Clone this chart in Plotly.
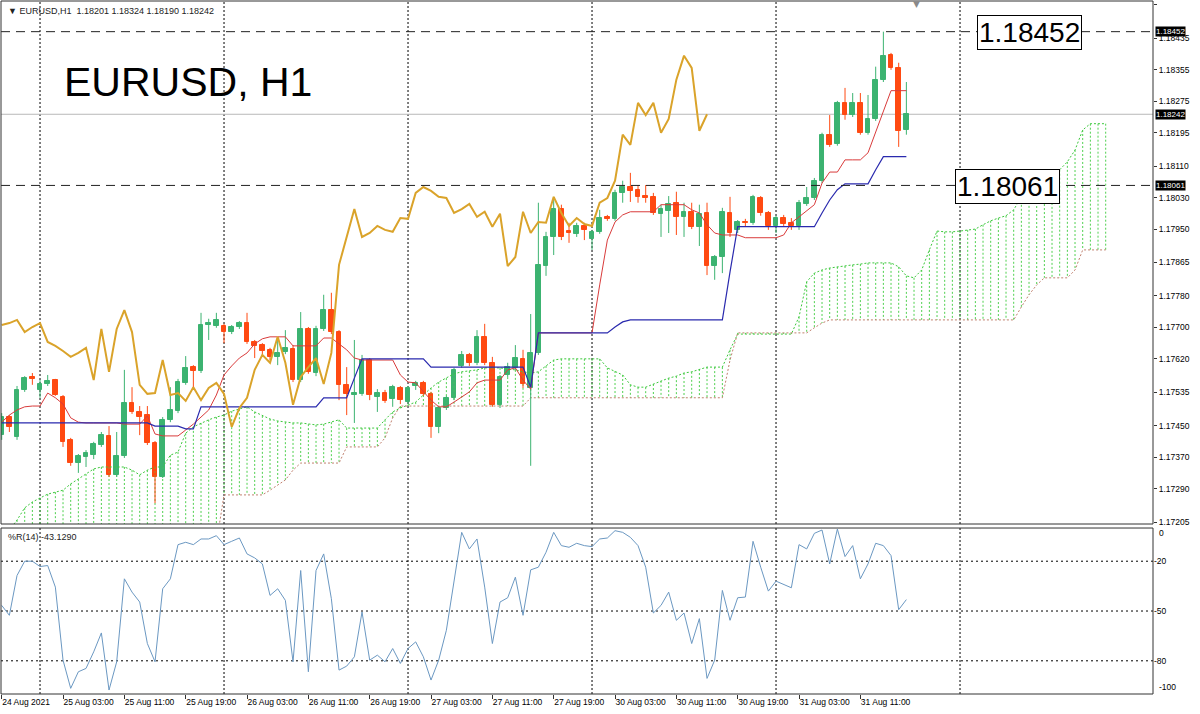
import plotly.graph_objects as go

FONT = "Liberation Sans, Arial, sans-serif"

header_text = "▼ EURUSD,H1  1.18201 1.18324 1.18190 1.18242"
chart_title = "EURUSD, H1"
wpr_label = "%R(14) -43.1290"

# ---------------- candles (bar index 0 = 24 Aug 19:00, H1) ----------------
opens = [1.17426, 1.17472, 1.17421, 1.17541, 1.17574, 1.17541, 1.17556, 1.17566, 1.17523, 1.17414,
         1.17355, 1.17370, 1.17375, 1.17401, 1.17424, 1.17325, 1.17373, 1.17508, 1.17485, 1.17477,
         1.17406, 1.17320, 1.17465, 1.17487, 1.17559, 1.17599, 1.17589, 1.17706, 1.17704, 1.17704,
         1.17688, 1.17701, 1.17711, 1.17663, 1.17655, 1.17643, 1.17625, 1.17637, 1.17645, 1.17566,
         1.17696, 1.17584, 1.17696, 1.17744, 1.17688, 1.17554, 1.17528, 1.17531, 1.17617, 1.17523,
         1.17533, 1.17518, 1.17546, 1.17510, 1.17551, 1.17559, 1.17531, 1.17447, 1.17495, 1.17521,
         1.17602, 1.17630, 1.17610, 1.17676, 1.17610, 1.17503, 1.17579, 1.17597, 1.17620, 1.17546,
         1.17635, 1.17856, 1.17930, 1.18001, 1.17945, 1.17938, 1.17958, 1.17925, 1.17943, 1.17981,
         1.17976, 1.18042, 1.18057, 1.18050, 1.18034, 1.18032, 1.17989, 1.17996, 1.18017, 1.17981,
         1.17994, 1.17956, 1.17991, 1.17856, 1.17879, 1.17991, 1.17948, 1.17968, 1.17966, 1.18029,
         1.17991, 1.17958, 1.17978, 1.17966, 1.17958, 1.18014, 1.18029, 1.18073, 1.18190, 1.18167,
         1.18271, 1.18240, 1.18271, 1.18195, 1.18230, 1.18330, 1.18393, 1.18360, 1.18201]
highs = [1.17482, 1.17477, 1.17551, 1.17576, 1.17584, 1.17566, 1.17579, 1.17569, 1.17528, 1.17419,
         1.17378, 1.17388, 1.17409, 1.17434, 1.17449, 1.17434, 1.17592, 1.17548, 1.17500, 1.17500,
         1.17411, 1.17472, 1.17548, 1.17569, 1.17627, 1.17604, 1.17737, 1.17722, 1.17737, 1.17709,
         1.17706, 1.17716, 1.17737, 1.17668, 1.17660, 1.17648, 1.17671, 1.17693, 1.17655, 1.17739,
         1.17701, 1.17704, 1.17783, 1.17788, 1.17693, 1.17599, 1.17668, 1.17630, 1.17622, 1.17543,
         1.17541, 1.17554, 1.17551, 1.17551, 1.17564, 1.17564, 1.17536, 1.17500, 1.17526, 1.17597,
         1.17640, 1.17635, 1.17693, 1.17709, 1.17625, 1.17579, 1.17610, 1.17655, 1.17643, 1.17734,
         1.18017, 1.17943, 1.18032, 1.18012, 1.17966, 1.17966, 1.17966, 1.17948, 1.17999, 1.17986,
         1.18050, 1.18073, 1.18093, 1.18061, 1.18062, 1.18042, 1.18012, 1.18034, 1.18045, 1.18017,
         1.18017, 1.18012, 1.18017, 1.17884, 1.18004, 1.18032, 1.17973, 1.17976, 1.18037, 1.18034,
         1.17996, 1.17984, 1.17986, 1.17978, 1.18024, 1.18057, 1.18080, 1.18195, 1.18240, 1.18276,
         1.18309, 1.18296, 1.18296, 1.18291, 1.18363, 1.18452, 1.18398, 1.18373, 1.18324]
lows = [1.17414, 1.17434, 1.17414, 1.17536, 1.17554, 1.17521, 1.17551, 1.17526, 1.17396, 1.17348,
        1.17330, 1.17345, 1.17365, 1.17396, 1.17320, 1.17320, 1.17368, 1.17480, 1.17426, 1.17401,
        1.17253, 1.17317, 1.17459, 1.17482, 1.17554, 1.17546, 1.17584, 1.17668, 1.17699, 1.17660,
        1.17683, 1.17696, 1.17658, 1.17622, 1.17630, 1.17617, 1.17604, 1.17632, 1.17561, 1.17561,
        1.17582, 1.17576, 1.17691, 1.17683, 1.17515, 1.17477, 1.17457, 1.17526, 1.17515, 1.17485,
        1.17508, 1.17498, 1.17505, 1.17505, 1.17541, 1.17526, 1.17419, 1.17431, 1.17490, 1.17515,
        1.17597, 1.17602, 1.17604, 1.17604, 1.17498, 1.17495, 1.17574, 1.17592, 1.17546, 1.17348,
        1.17630, 1.17831, 1.17884, 1.17922, 1.17915, 1.17930, 1.17922, 1.17897, 1.17938, 1.17971,
        1.17971, 1.18017, 1.18019, 1.18017, 1.18017, 1.17986, 1.17930, 1.17940, 1.17935, 1.17930,
        1.17950, 1.17907, 1.17833, 1.17821, 1.17838, 1.17930, 1.17940, 1.17956, 1.17961, 1.17984,
        1.17948, 1.17940, 1.17958, 1.17948, 1.17948, 1.18009, 1.18024, 1.18067, 1.18159, 1.18162,
        1.18228, 1.18235, 1.18190, 1.18190, 1.18225, 1.18324, 1.18355, 1.18159, 1.18190]
closes = [1.17472, 1.17447, 1.17541, 1.17571, 1.17569, 1.17556, 1.17564, 1.17528, 1.17409, 1.17355,
          1.17373, 1.17381, 1.17404, 1.17426, 1.17325, 1.17373, 1.17508, 1.17485, 1.17472, 1.17406,
          1.17320, 1.17465, 1.17490, 1.17561, 1.17597, 1.17589, 1.17706, 1.17711, 1.17719, 1.17688,
          1.17701, 1.17711, 1.17663, 1.17653, 1.17640, 1.17625, 1.17635, 1.17648, 1.17566, 1.17696,
          1.17587, 1.17696, 1.17744, 1.17688, 1.17554, 1.17531, 1.17533, 1.17617, 1.17528, 1.17533,
          1.17513, 1.17548, 1.17515, 1.17546, 1.17559, 1.17531, 1.17447, 1.17495, 1.17521, 1.17592,
          1.17630, 1.17610, 1.17676, 1.17610, 1.17503, 1.17574, 1.17599, 1.17622, 1.17556, 1.17635,
          1.17859, 1.17930, 1.18001, 1.17930, 1.17940, 1.17958, 1.17948, 1.17943, 1.17978, 1.17976,
          1.18042, 1.18057, 1.18047, 1.18032, 1.18029, 1.17991, 1.18001, 1.18014, 1.17981, 1.17994,
          1.17956, 1.17989, 1.17856, 1.17879, 1.17994, 1.17940, 1.17968, 1.17966, 1.18032, 1.17991,
          1.17958, 1.17978, 1.17963, 1.17958, 1.18017, 1.18029, 1.18073, 1.18190, 1.18164, 1.18271,
          1.18240, 1.18271, 1.18195, 1.18230, 1.18330, 1.18391, 1.18360, 1.18200, 1.18242]

# ---------------- Ichimoku lines ----------------
tenkan = [1.17459, 1.17477, 1.17490, 1.17498, 1.17500, 1.17500, 1.17533, 1.17521, 1.17505, 1.17470,
          1.17459, 1.17457, 1.17457, 1.17457, 1.17457, 1.17457, 1.17454, 1.17454, 1.17454, 1.17475,
          1.17429, 1.17424, 1.17424, 1.17424, 1.17439, 1.17454, 1.17472, 1.17490, 1.17528, 1.17579,
          1.17602, 1.17622, 1.17635, 1.17658, 1.17671, 1.17676, 1.17676, 1.17676, 1.17653, 1.17653,
          1.17653, 1.17653, 1.17673, 1.17673, 1.17658, 1.17643, 1.17622, 1.17617, 1.17617, 1.17617,
          1.17617, 1.17617, 1.17579, 1.17561, 1.17559, 1.17536, 1.17515, 1.17498, 1.17498, 1.17510,
          1.17523, 1.17536, 1.17559, 1.17566, 1.17566, 1.17566, 1.17592, 1.17597, 1.17566, 1.17543,
          1.17686, 1.17686, 1.17686, 1.17686, 1.17686, 1.17686, 1.17686, 1.17686, 1.17808, 1.17922,
          1.17968, 1.17986, 1.17994, 1.17994, 1.17994, 1.17994, 1.18012, 1.18012, 1.18012, 1.18012,
          1.17999, 1.17991, 1.17961, 1.17940, 1.17935, 1.17935, 1.17935, 1.17928, 1.17928, 1.17928,
          1.17928, 1.17928, 1.17935, 1.17966, 1.17981, 1.17996, 1.18012, 1.18067, 1.18095, 1.18095,
          1.18126, 1.18126, 1.18126, 1.18144, 1.18197, 1.18248, 1.18302, 1.18302, 1.18302]
kijun = [1.17457, 1.17457, 1.17457, 1.17457, 1.17457, 1.17457, 1.17457, 1.17457, 1.17457, 1.17457,
         1.17457, 1.17457, 1.17457, 1.17457, 1.17457, 1.17457, 1.17457, 1.17457, 1.17457, 1.17457,
         1.17449, 1.17449, 1.17449, 1.17449, 1.17442, 1.17442, 1.17498, 1.17498, 1.17498, 1.17498,
         1.17498, 1.17498, 1.17498, 1.17498, 1.17498, 1.17498, 1.17498, 1.17498, 1.17498, 1.17498,
         1.17498, 1.17498, 1.17521, 1.17521, 1.17521, 1.17521, 1.17571, 1.17620, 1.17620, 1.17620,
         1.17620, 1.17620, 1.17620, 1.17620, 1.17620, 1.17620, 1.17599, 1.17599, 1.17599, 1.17599,
         1.17599, 1.17599, 1.17599, 1.17599, 1.17599, 1.17599, 1.17599, 1.17599, 1.17599, 1.17548,
         1.17686, 1.17686, 1.17686, 1.17686, 1.17686, 1.17686, 1.17686, 1.17686, 1.17686, 1.17686,
         1.17701, 1.17714, 1.17719, 1.17719, 1.17719, 1.17719, 1.17719, 1.17719, 1.17719, 1.17719,
         1.17719, 1.17719, 1.17719, 1.17719, 1.17719, 1.17841, 1.17956, 1.17956, 1.17956, 1.17956,
         1.17956, 1.17956, 1.17956, 1.17956, 1.17956, 1.17956, 1.17956, 1.17991, 1.18024, 1.18050,
         1.18065, 1.18065, 1.18065, 1.18065, 1.18101, 1.18134, 1.18134, 1.18134, 1.18134]
# Senkou spans (already shifted 26 bars ahead: 145 points)
span_a = [1.17159, 1.17185, 1.17210, 1.17241, 1.17256, 1.17266, 1.17276, 1.17281, 1.17286, 1.17302,
          1.17314, 1.17327, 1.17340, 1.17345, 1.17345, 1.17345, 1.17345, 1.17337, 1.17325, 1.17337,
          1.17345, 1.17345, 1.17375, 1.17383, 1.17431, 1.17447, 1.17457, 1.17465, 1.17472, 1.17477,
          1.17487, 1.17492, 1.17498, 1.17485, 1.17475, 1.17467, 1.17462, 1.17459, 1.17457, 1.17457,
          1.17454, 1.17452, 1.17454, 1.17459, 1.17465, 1.17444, 1.17444, 1.17444, 1.17444, 1.17444,
          1.17465, 1.17485, 1.17495, 1.17503, 1.17510, 1.17528, 1.17546, 1.17561, 1.17571, 1.17582,
          1.17587, 1.17589, 1.17592, 1.17597, 1.17597, 1.17597, 1.17594, 1.17592, 1.17587, 1.17584,
          1.17587, 1.17602, 1.17617, 1.17620, 1.17620, 1.17620, 1.17620, 1.17620, 1.17620, 1.17597,
          1.17589, 1.17579, 1.17554, 1.17548, 1.17548, 1.17556, 1.17564, 1.17571, 1.17576, 1.17584,
          1.17587, 1.17594, 1.17599, 1.17599, 1.17599, 1.17643, 1.17683, 1.17683, 1.17683, 1.17683,
          1.17683, 1.17683, 1.17683, 1.17683, 1.17727, 1.17816, 1.17838, 1.17846, 1.17851, 1.17854,
          1.17856, 1.17859, 1.17861, 1.17864, 1.17864, 1.17864, 1.17864, 1.17854, 1.17831, 1.17826,
          1.17846, 1.17897, 1.17945, 1.17943, 1.17943, 1.17945, 1.17948, 1.17950, 1.17961, 1.17971,
          1.17978, 1.17984, 1.17999, 1.18032, 1.18070, 1.18090, 1.18095, 1.18098, 1.18101, 1.18121,
          1.18151, 1.18202, 1.18218, 1.18218, 1.18218]
span_b = [1.17150, 1.17150, 1.17150, 1.17150, 1.17150, 1.17150, 1.17150, 1.17150, 1.17150, 1.17150,
          1.17150, 1.17150, 1.17150, 1.17150, 1.17150, 1.17150, 1.17150, 1.17150, 1.17150, 1.17150,
          1.17150, 1.17150, 1.17150, 1.17150, 1.17150, 1.17150, 1.17150, 1.17150, 1.17150, 1.17274,
          1.17274, 1.17274, 1.17274, 1.17274, 1.17274, 1.17286, 1.17299, 1.17312, 1.17337, 1.17355,
          1.17355, 1.17355, 1.17355, 1.17355, 1.17355, 1.17396, 1.17396, 1.17396, 1.17396, 1.17396,
          1.17419, 1.17470, 1.17500, 1.17500, 1.17500, 1.17500, 1.17500, 1.17500, 1.17500, 1.17500,
          1.17500, 1.17500, 1.17500, 1.17500, 1.17500, 1.17500, 1.17500, 1.17500, 1.17500, 1.17521,
          1.17521, 1.17521, 1.17521, 1.17521, 1.17521, 1.17521, 1.17521, 1.17521, 1.17521, 1.17521,
          1.17521, 1.17521, 1.17521, 1.17521, 1.17521, 1.17521, 1.17521, 1.17521, 1.17521, 1.17521,
          1.17521, 1.17521, 1.17521, 1.17521, 1.17521, 1.17617, 1.17686, 1.17686, 1.17686, 1.17686,
          1.17686, 1.17686, 1.17686, 1.17686, 1.17686, 1.17686, 1.17699, 1.17711, 1.17719, 1.17719,
          1.17719, 1.17719, 1.17719, 1.17719, 1.17719, 1.17719, 1.17719, 1.17719, 1.17719, 1.17719,
          1.17719, 1.17719, 1.17719, 1.17719, 1.17719, 1.17719, 1.17719, 1.17719, 1.17719, 1.17719,
          1.17719, 1.17719, 1.17719, 1.17752, 1.17783, 1.17808, 1.17826, 1.17826, 1.17826, 1.17826,
          1.17846, 1.17897, 1.17897, 1.17897, 1.17897]
chikou_shift = 26

# ---------------- Williams %R(14) ----------------
wpr = [-46.6, -52.6, -28.6, -20.0, -20.0, -23.2, -22.6, -35.6, -79.6, -96.6,
       -86.6, -84.6, -74.6, -63.2, -97.6, -80.6, -30.6, -38.6, -44.6, -69.6,
       -80.6, -36.6, -30.6, -10.0, -8.6, -10.0, -6.6, -6.6, -4.6, -10.0,
       -8.0, -6.0, -15.6, -18.0, -21.6, -40.6, -36.6, -43.6, -80.6, -25.6,
       -86.6, -25.6, -15.6, -42.6, -85.6, -83.2, -77.6, -50.6, -79.6, -76.6,
       -80.6, -72.6, -81.6, -72.6, -68.6, -77.6, -91.6, -79.6, -61.6, -32.6,
       -2.6, -12.6, -6.6, -35.6, -69.6, -44.6, -42.0, -29.6, -52.6, -25.2,
       -23.6, -14.6, -2.6, -10.6, -11.6, -9.2, -10.6, -11.2, -6.6, -6.0,
       -1.6, -2.6, -5.6, -10.6, -23.6, -51.2, -46.6, -38.6, -55.6, -51.2,
       -69.6, -54.6, -90.6, -79.6, -37.6, -55.6, -42.0, -41.6, -8.0, -23.6,
       -38.0, -32.0, -34.0, -36.0, -10.0, -12.6, -3.2, -1.2, -21.6, -0.6,
       -17.2, -10.6, -30.6, -21.6, -9.2, -10.6, -16.6, -49.2, -43.129]
wpr_levels = [-20, -50, -80]

# ---------------- axes / labels ----------------
xlabel_idx = [0, 8, 16, 24, 32, 40, 48, 56, 64, 72, 80, 88, 96, 104, 112]
xlabel_text = ["24 Aug 2021", "25 Aug 03:00", "25 Aug 11:00", "25 Aug 19:00", "26 Aug 03:00",
               "26 Aug 11:00", "26 Aug 19:00", "27 Aug 03:00", "27 Aug 11:00", "27 Aug 19:00",
               "30 Aug 03:00", "30 Aug 11:00", "30 Aug 19:00", "31 Aug 03:00", "31 Aug 11:00"]
day_starts = [5, 29, 53, 77, 101, 125]
price_ticks = [1.18520, 1.18435, 1.18355, 1.18275, 1.18195, 1.18110, 1.18030, 1.17950, 1.17865,
               1.17780, 1.17700, 1.17620, 1.17535, 1.17450, 1.17370, 1.17290, 1.17205]
level_lines = [1.18452, 1.18061]
bid_price = 1.18242

BULL = "#3cb371"
BEAR = "#ff4a12"

n = len(closes)
bars = list(range(n))

fig = go.Figure()

# cloud hatch (vertical dotted strokes between the spans)
hx, hy = [], []
for i, (a, b) in enumerate(zip(span_a, span_b)):
    hx += [i, i, None]
    hy += [a, b, None]
fig.add_trace(go.Scatter(x=hx, y=hy, mode="lines", yaxis="y",
                         line=dict(color="#4fd04f", width=1, dash="2px,2px"), hoverinfo="skip"))
cloud_x = list(range(len(span_a)))
fig.add_trace(go.Scatter(x=cloud_x, y=span_a, mode="lines", yaxis="y",
                         line=dict(color="#3cc83c", width=1, dash="2px,2px"), hoverinfo="skip"))
fig.add_trace(go.Scatter(x=cloud_x, y=span_b, mode="lines", yaxis="y",
                         line=dict(color="#c0806e", width=1, dash="2px,2px"), hoverinfo="skip"))

# candles: wicks + bodies
for is_bull, col in ((True, BULL), (False, BEAR)):
    wx, wy, bx, bb, bh = [], [], [], [], []
    for i in bars:
        o, h, l, c = opens[i], highs[i], lows[i], closes[i]
        if (c >= o) != is_bull:
            continue
        wx += [i, i, None]
        wy += [l, h, None]
        bx.append(i)
        bb.append(min(o, c))
        bh.append(max(abs(c - o), 0.000012))
    fig.add_trace(go.Scatter(x=wx, y=wy, mode="lines", yaxis="y",
                             line=dict(color=col, width=1), hoverinfo="skip"))
    fig.add_trace(go.Bar(x=bx, y=bh, base=bb, width=0.6, yaxis="y",
                         marker=dict(color=col, line=dict(color=col, width=1))))

# tenkan / kijun / chikou
fig.add_trace(go.Scatter(x=bars, y=tenkan, mode="lines", yaxis="y",
                         line=dict(color="#d93b3b", width=1)))
fig.add_trace(go.Scatter(x=bars, y=kijun, mode="lines", yaxis="y",
                         line=dict(color="#2a2aae", width=1.2)))
chikou_x = [i - chikou_shift for i in bars[chikou_shift:]]
fig.add_trace(go.Scatter(x=chikou_x, y=closes[chikou_shift:], mode="lines", yaxis="y",
                         line=dict(color="#daa32a", width=2)))

# %R
fig.add_trace(go.Scatter(x=bars, y=wpr, mode="lines", yaxis="y2",
                         line=dict(color="#6b98c2", width=1)))

shapes = []
for d in day_starts:
    for yr in ("y domain", "y2 domain"):
        shapes.append(dict(type="line", xref="x", x0=d, x1=d, yref=yr, y0=0, y1=1,
                           line=dict(color="black", width=1, dash="2px,2px"), layer="below"))
for lv in wpr_levels:
    shapes.append(dict(type="line", xref="x domain", x0=0, x1=1, yref="y2", y0=lv, y1=lv,
                       line=dict(color="black", width=1, dash="2px,3px"), layer="below"))
for lv in level_lines:
    shapes.append(dict(type="line", xref="x domain", x0=0, x1=1, yref="y", y0=lv, y1=lv,
                       line=dict(color="#222222", width=1, dash="9px,6px")))
shapes.append(dict(type="line", xref="x domain", x0=0, x1=1, yref="y", y0=bid_price, y1=bid_price,
                   line=dict(color="#b8b8b8", width=1), layer="below"))
for yr in ("y domain", "y2 domain"):
    shapes.append(dict(type="rect", xref="x domain", x0=0, x1=1, yref=yr, y0=0, y1=1,
                       line=dict(color="#333333", width=1)))

annotations = [
    dict(text=header_text, xref="paper", x=0.004, yref="paper", y=1, yanchor="top", yshift=-3,
         xanchor="left", showarrow=False, font=dict(family=FONT, size=9, color="#222")),
    dict(text=chart_title, xref="paper", x=0.053, xanchor="left", yref="y", y=1.18324,
         yanchor="middle", showarrow=False, font=dict(family=FONT, size=41, color="black")),
    dict(text=wpr_label, xref="paper", x=0.004, xanchor="left", yref="y2 domain", y=1,
         yanchor="top", yshift=-2, showarrow=False, font=dict(family=FONT, size=9, color="#222")),
    dict(text="1.18452", xref="x", x=127.2, xanchor="left", yref="y", y=1.18449, yanchor="middle",
         showarrow=False, bgcolor="white", bordercolor="black", borderwidth=1, borderpad=1,
         font=dict(family=FONT, size=28, color="black")),
    dict(text="1.18061", xref="x", x=124.3, xanchor="left", yref="y", y=1.18058, yanchor="middle",
         showarrow=False, bgcolor="white", bordercolor="black", borderwidth=1, borderpad=1,
         font=dict(family=FONT, size=28, color="black")),
    dict(text="▼", xref="paper", x=0.7995, yref="paper", y=1, yanchor="top", yshift=4,
         showarrow=False, font=dict(family="DejaVu Sans", size=9, color="#8a8a8a")),
    dict(text="0", xref="paper", x=1, xanchor="left", xshift=4, yref="y2", y=-3,
         yanchor="middle", showarrow=False, font=dict(family=FONT, size=8.5, color="black")),
    dict(text="-100", xref="paper", x=1, xanchor="left", xshift=4, yref="y2", y=-96,
         yanchor="middle", showarrow=False, font=dict(family=FONT, size=8.5, color="black")),
]
for lv in [level_lines[0], bid_price, level_lines[1]]:
    annotations.append(dict(text=f"{lv:.5f}", xref="paper", x=1, xanchor="left", xshift=2,
                            yref="y", y=lv, yanchor="middle", showarrow=False, bgcolor="black",
                            borderpad=0, font=dict(family=FONT, size=8, color="white")))

fig.update_layout(
    width=1200, height=714,
    margin=dict(l=1, r=47, t=1, b=20, autoexpand=False),
    paper_bgcolor="white", plot_bgcolor="white",
    showlegend=False, barmode="overlay", bargap=0,
    font=dict(family=FONT, size=9, color="black"),
    shapes=shapes, annotations=annotations,
    xaxis=dict(range=[-0.09, 150.17], anchor="y2", tickmode="array", tickvals=xlabel_idx,
               ticktext=xlabel_text, ticks="outside", ticklen=4, tickcolor="#333", tickangle=0,
               ticklabelposition="outside right", showgrid=False, zeroline=False, automargin=False,
               showline=False, tickfont=dict(family=FONT, size=8.5, color="black")),
    yaxis=dict(domain=[0.2453, 1], range=[1.17200, 1.18530], side="right", anchor="x",
               tickmode="array", tickvals=price_ticks, ticktext=[f"{p:.5f}" for p in price_ticks],
               ticks="outside", ticklen=3, tickcolor="#333", showgrid=False, zeroline=False,
               automargin=False, tickfont=dict(family=FONT, size=8.5, color="black")),
    yaxis2=dict(domain=[0, 0.2395], range=[-100, 0], side="right", anchor="x",
                tickmode="array", tickvals=wpr_levels, ticktext=[str(v) for v in wpr_levels],
                ticks="", showgrid=False, zeroline=False, automargin=False,
                tickfont=dict(family=FONT, size=8.5, color="black")),
)

fig.write_html("out.html", config={"displayModeBar": False},
               post_script="document.body.style.margin='0px';document.body.style.overflow='hidden';")
